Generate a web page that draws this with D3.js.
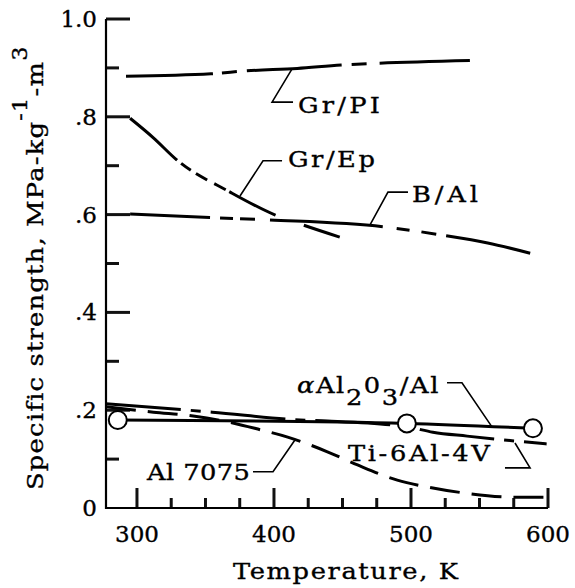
<!DOCTYPE html>
<html><head><meta charset="utf-8">
<script src="https://cdn.jsdelivr.net/npm/d3@7"></script>
<style>body{margin:0;background:#fff} svg{display:block} text{font-family:"DejaVu Serif",serif;fill:#000}</style>
</head><body><svg id="c" width="575" height="588"></svg>
<script>
// ---- data ----
const xMajorTicks=[300,400,500,600];
const xMinorTicks=[325,350,375,425,450,475,525,550,575];
const yMajorTicks=[0,0.2,0.4,0.6,0.8,1.0];
const yTickLabels=["0",".2",".4",".6",".8","1.0"];
const yMinorTicks=[0.1,0.3,0.5,0.7,0.9];

const grPI_T=[292,354,380,417,449,472,543];
const grPI_V=[.883,.888,.894,.899,.906,.909,.915];
const grEp_T=[295,312,329,368,401,421,448];
const grEp_V=[.797,.757,.712,.646,.599,.579,.554];
const bAl_T=[295,353,397,480,523,556,587];
const bAl_V=[.601,.594,.589,.575,.558,.542,.521];
const al2o3_T=[286,497,589];
const al2o3_V=[.180,.173,.163];
const ti_T=[277.4,355,419,439,497,516,541,599];
const ti_V=[.213,.196,.180,.178,.166,.155,.147,.131];
const al7075_T=[277.4,312,341,370,390,410,439,461,490,512,538,577,600];
const al7075_V=[.207,.196,.188,.174,.160,.145,.115,.088,.057,.043,.031,.022,.022];

const labels=[
  {text:"Gr/PI", T:417.5, V:.808, len:82, leader:[[413.2,.898],[398.6,.830],[413.9,.830]]},
  {text:"Gr/Ep", T:410.2, V:.697, len:87, leader:[[375.2,.638],[392.0,.710],[405.9,.710]]},
  {text:"B/Al", T:500.7, V:.626, len:66, leader:[[470.1,.579],[483.2,.646],[497.8,.646]]},
  {text:"Ti-6Al-4V", T:454, V:.096, len:142, leader:[[575.9,.133],[586.9,.082],[568.6,.082]]},
  {text:"Al 7075", T:307.3, V:.057, len:103, leader:[[384.7,.074],[399.3,.074],[415.3,.139]]}
];
const alLeader=[[526.3,.256],[537.2,.256],[559.1,.166]];

// ---- scales ----
const x=d3.scaleLinear().domain([277.4,600]).range([106,548]);
const y=d3.scaleLinear().domain([0,1]).range([508,19]);
const svg=d3.select('#c');
svg.append('rect').attr('width',575).attr('height',588).attr('fill','#fff');
const SX=1.12;
const TS=0.35;

const x0=x.range()[0], x1=x.range()[1], yb=y(0), yt=y(1);
const tickSegs=[]
  .concat(xMajorTicks.map(d=>[[x(d),yb],[x(d),yb-20]]))
  .concat(xMinorTicks.map(d=>[[x(d),yb],[x(d),yb-10]]))
  .concat(yMajorTicks.filter(d=>d>0).map(d=>[[x0,y(d)],[x0+24,y(d)]]))
  .concat(yMinorTicks.map(d=>[[x0,y(d)],[x0+13,y(d)]]));
svg.append('g').selectAll('path').data(tickSegs).join('path')
  .attr('d',d=>d3.line()(d)).attr('fill','none').attr('stroke','#111').attr('stroke-width',3);
svg.append('path').attr('d',"M"+x0+","+yt+"V"+yb+"H"+x1).attr('fill','none').attr('stroke','#000').attr('stroke-width',2.2);

// tick labels
svg.selectAll('text.xl').data(xMajorTicks).join('text').attr('class','xl')
  .attr('x',d=>x(d)).attr('y',yb+34).attr('text-anchor','middle').attr('font-size',23)
  .attr('stroke','#000').attr('stroke-width',TS).text(d=>d3.format('d')(d));
svg.selectAll('text.yl').data(yMajorTicks).join('text').attr('class','yl')
  .attr('x',x0-9).attr('y',d=>y(d)+8).attr('text-anchor','end').attr('font-size',23)
  .attr('stroke','#000').attr('stroke-width',TS).text((d,i)=>yTickLabels[i]);

// axis titles
svg.append('text').attr('transform','translate(233,579) scale('+SX+',1)').attr('font-size',23)
  .attr('stroke','#000').attr('stroke-width',TS)
  .attr('textLength',225/SX).text('Temperature, K');
const yl=svg.append('text').attr('transform','translate(43,490) rotate(-90) scale('+SX+',1)')
  .attr('font-size',23).attr('letter-spacing',1.1).attr('stroke','#000').attr('stroke-width',TS);
yl.append('tspan').text('Specific strength, MPa-kg');
yl.append('tspan').attr('dy',-16).attr('font-size',20).text('-1');
yl.append('tspan').attr('dy',16).text('-m');
yl.append('tspan').attr('dy',-16).attr('font-size',20).text('3');

// ---- series ----
const series=[
  {T:grPI_T,V:grPI_V,dash:"87,9,15,10,95,10,15,13,91"},
  {T:grEp_T,V:grEp_V,dash:"63,5,12,6,13,8,13,4,52,30,40"},
  {T:bAl_T,V:bAl_V,dash:"80,10,13,7,15,15,113,14,13,12,15,10,90"},
  {T:al2o3_T,V:al2o3_V,dash:null},
  {T:ti_T,V:ti_V,dash:"75,10,10,10"},
  {T:al7075_T,V:al7075_V,dash:"30,12"}
];
const line=d3.line().x(d=>x(d[0])).y(d=>y(d[1])).curve(d3.curveMonotoneX);
series.forEach(s=>{
  const pts=s.T.map((t,i)=>[t,s.V[i]]);
  const p=svg.append('path').attr('d',line(pts)).attr('fill','none').attr('stroke','#000')
    .attr('stroke-width',3);
  if(s.dash) p.attr('stroke-dasharray',s.dash);
});
svg.selectAll('circle.pt').data(al2o3_T.map((t,i)=>[t,al2o3_V[i]])).join('circle').attr('class','pt')
  .attr('cx',d=>x(d[0])).attr('cy',d=>y(d[1])).attr('r',9)
  .attr('fill','#fff').attr('stroke','#000').attr('stroke-width',2);

// ---- labels ----
const lline=d3.line().x(d=>x(d[0])).y(d=>y(d[1]));
labels.forEach(l=>{
  svg.append('path').attr('d',lline(l.leader)).attr('fill','none').attr('stroke','#000').attr('stroke-width',1.6);
  svg.append('text').attr('transform','translate('+x(l.T)+','+y(l.V)+') scale('+SX+',1)')
    .attr('font-size',23).attr('stroke','#000').attr('stroke-width',TS)
    .attr('textLength',l.len/SX).text(l.text);
});
svg.append('path').attr('d',lline(alLeader)).attr('fill','none').attr('stroke','#000').attr('stroke-width',1.6);
const at=svg.append('text').attr('transform','translate('+x(416.8)+','+y(.235)+') scale('+SX+',1)')
  .attr('font-size',23).attr('letter-spacing',1.4).attr('stroke','#000').attr('stroke-width',TS);
at.append('tspan').attr('font-style','italic').text('α');
at.append('tspan').text('Al');
at.append('tspan').attr('dy',12).text('2');
at.append('tspan').attr('dy',-12).text('0');
at.append('tspan').attr('dy',12).text('3');
at.append('tspan').attr('dy',-12).text('/Al');
</script></body></html>
